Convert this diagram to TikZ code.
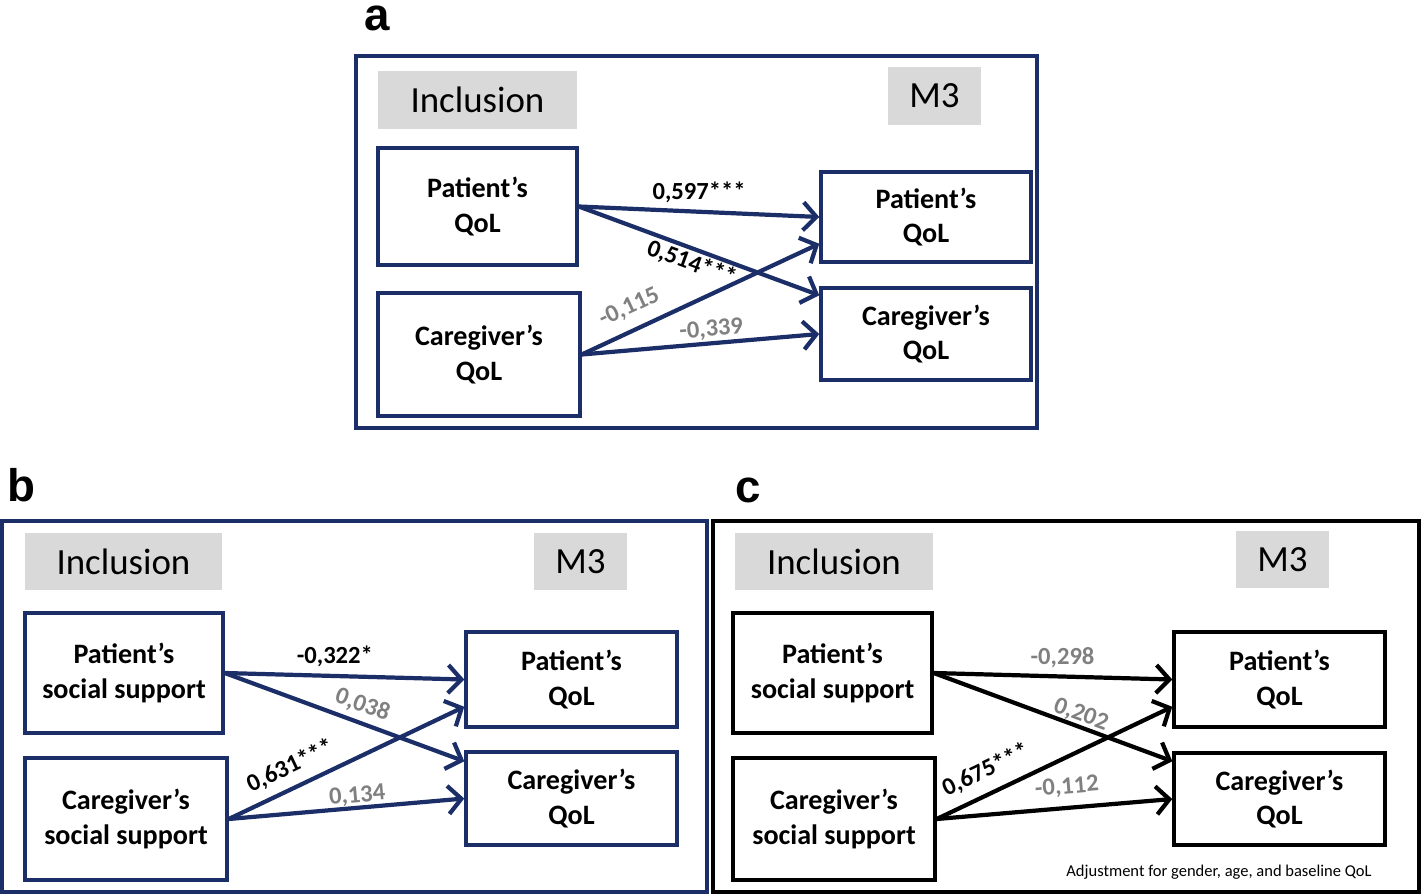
\documentclass[tikz,border=0pt]{standalone}
\usepackage{fontspec}
\setmainfont{Carlito}
\newfontfamily\panelfont{Liberation Sans}
\usetikzlibrary{arrows.meta,calc}
\definecolor{navy}{RGB}{28,46,104}
\definecolor{tagfill}{RGB}{217,217,217}
\definecolor{nsgray}{RGB}{128,128,128}
\begin{document}
\begin{tikzpicture}[x=0.02cm,y=-0.02cm,
	box/.style={draw,line width=2pt,align=center,inner sep=0pt,font=\fontsize{16}{19.5}\selectfont\bfseries},
	tag/.style={fill=tagfill,inner sep=0pt,minimum height=1.15cm,font=\fontsize{21}{25}\selectfont},
	link/.style={line width=2.4pt,-{Straight Barb[length=7.5pt,width=16pt]}},
	coef/.style={inner sep=1pt,text=black,font=\fontsize{14}{16}\selectfont\bfseries},
	ns/.style={coef,text=nsgray},
	panel/.style={inner sep=0pt,font=\fontsize{26}{28}\selectfont\panelfont\bfseries},
	note/.style={inner sep=0pt,font=\fontsize{9.4}{11}\selectfont}]
	\useasboundingbox (0,0) rectangle (1422,895);
	\node[panel](la) at (377,18){a};
	\node[panel](lb) at (21,485){b};
	\node[panel](lc) at (748,490){c};
	\draw[navy,line width=2pt] (356,56) rectangle (1037,428);
	\draw[navy,line width=2pt] (2,521) rectangle (707,892);
	\draw[black,line width=2pt] (713,521) rectangle (1419,892);
		\node[tag,minimum width=3.98cm](inclA) at (477.5,100){Inclusion};
		\node[tag,minimum width=1.86cm](mA) at (934.5,96){M3};
		\node[box,draw=navy,minimum width=3.98cm,minimum height=2.34cm](plA) at (477.5,206.5){Patient’s\\QoL};
		\node[box,draw=navy,minimum width=4.04cm,minimum height=2.46cm](clA) at (479,354.5){Caregiver’s\\QoL};
		\node[box,draw=navy,minimum width=4.2cm,minimum height=1.8cm](prA) at (926,217){Patient’s\\QoL};
		\node[box,draw=navy,minimum width=4.2cm,minimum height=1.84cm](crA) at (926,334){Caregiver’s\\QoL};
		\draw[link,navy] (plA.east)--(prA.west) node[coef,pos=0.5,above=3pt]{0,597***};
		\draw[link,navy] (plA.east)--($(crA.north west)+(0,9)$) node[coef,pos=0.49,below,sloped]{0,514***};
		\draw[link,navy] (clA.east)--($(prA.south west)+(0,-20)$) node[ns,pos=0.24,above=5pt,sloped]{-0,115};
		\draw[link,navy] (clA.east)--(crA.west) node[ns,pos=0.55,above,sloped]{-0,339};
		\node[tag,minimum width=3.94cm](inclB) at (123.5,561.5){Inclusion};
		\node[tag,minimum width=1.86cm](mB) at (580.5,561.5){M3};
		\node[box,draw=navy,minimum width=3.96cm,minimum height=2.4cm](plB) at (124,673){Patient’s\\social support};
		\node[box,draw=navy,minimum width=4.04cm,minimum height=2.44cm](clB) at (126,819){Caregiver’s\\social support};
		\node[box,draw=navy,minimum width=4.22cm,minimum height=1.9cm](prB) at (571.5,679.5){Patient’s\\QoL};
		\node[box,draw=navy,minimum width=4.22cm,minimum height=1.86cm](crB) at (571.5,798.5){Caregiver’s\\QoL};
		\draw[link,navy] (plB.east)--(prB.west) node[coef,pos=0.46,above=3pt]{-0,322*};
		\draw[link,navy] (plB.east)--($(crB.north west)+(0,11)$) node[ns,pos=0.55,above=2pt,sloped]{0,038};
		\draw[link,navy] (clB.east)--($(prB.south west)+(0,-22)$) node[coef,pos=0.3,above=4pt,sloped]{0,631***};
		\draw[link,navy] (clB.east)--(crB.west) node[ns,pos=0.55,above=-1pt,sloped]{0,134};
		\node[tag,minimum width=3.96cm](inclC) at (834,561.5){Inclusion};
		\node[tag,minimum width=1.86cm](mC) at (1282.5,559.5){M3};
		\node[box,minimum width=3.98cm,minimum height=2.4cm](plC) at (832.5,673){Patient’s\\social support};
		\node[box,minimum width=4.04cm,minimum height=2.44cm](clC) at (834,819){Caregiver’s\\social support};
		\node[box,minimum width=4.22cm,minimum height=1.9cm](prC) at (1279.5,679.5){Patient’s\\QoL};
		\node[box,minimum width=4.22cm,minimum height=1.84cm](crC) at (1279.5,799){Caregiver’s\\QoL};
		\draw[link] (plC.east)--(prC.west) node[ns,pos=0.54,above=3pt]{-0,298};
		\draw[link] (plC.east)--($(crC.north west)+(0,10)$) node[ns,pos=0.6,above=-1pt,sloped]{0,202};
		\draw[link] (clC.east)--($(prC.south west)+(0,-22)$) node[coef,pos=0.25,above=5pt,sloped]{0,675***};
		\draw[link] (clC.east)--(crC.west) node[ns,pos=0.56,above=4pt,sloped]{-0,112};
		\node[note](adj) at (1219,872){Adjustment for gender, age, and baseline QoL};
\end{tikzpicture}
\end{document}
